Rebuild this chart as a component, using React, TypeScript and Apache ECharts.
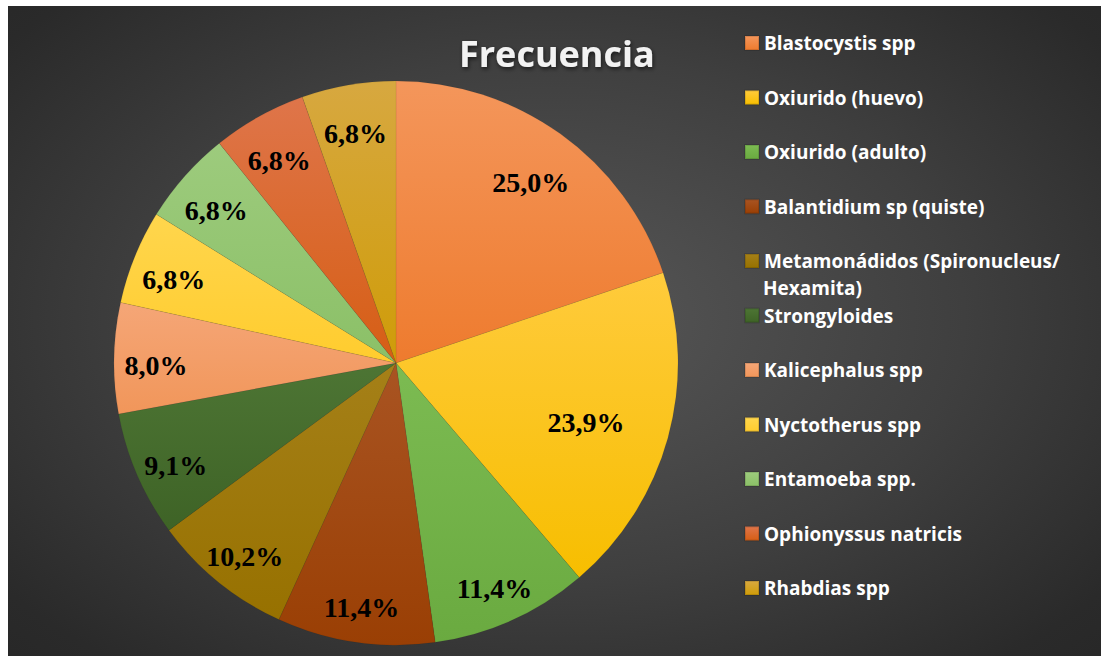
import React, { useEffect, useRef } from "react";
import * as echarts from "echarts";

const TITLE = "Frecuencia";
const categories = [
  "Blastocystis spp",
  "Oxiurido (huevo)",
  "Oxiurido (adulto)",
  "Balantidium sp (quiste)",
  "Metamonádidos (Spironucleus/Hexamita)",
  "Strongyloides",
  "Kalicephalus spp",
  "Nyctotherus spp",
  "Entamoeba spp.",
  "Ophionyssus natricis",
  "Rhabdias spp",
];
const values = [25.0, 23.9, 11.4, 11.4, 10.2, 9.1, 8.0, 6.8, 6.8, 6.8, 6.8];

// style: [top (lighter), bottom (base)]
const sliceColors: [string, string][] = [
  ["#F4965B", "#EE7B2E"],
  ["#FFCB3C", "#F7BE00"],
  ["#7CBB52", "#6AAA40"],
  ["#A95422", "#9A3F04"],
  ["#A58018", "#977100"],
  ["#4D7534", "#3E6326"],
  ["#F5A677", "#F1965A"],
  ["#FFD64D", "#FFCC2E"],
  ["#9DCB7D", "#8BC067"],
  ["#DF754A", "#D65E14"],
  ["#D7A840", "#CF9C08"],
];

// label ring groups (style): mid radius -> item indices
const labelGroups = [
  { mid: 228, items: [0] },
  { mid: 194, items: [1] },
  { mid: 237, items: [2, 3, 4, 5, 6, 7, 8, 9, 10] },
];

const CX = 388;
const CY = 357;
const R = 282;

const fmt = (v: number) => v.toFixed(1).replace(".", ",") + "%";

export default function App() {
  const ref = useRef<HTMLDivElement>(null);
  useEffect(() => {
    if (!ref.current) return;
    const chart = echarts.init(ref.current, null, { renderer: "svg" });
    const mainData = categories.map((name, i) => ({
      name,
      value: values[i],
      itemStyle: {
        color: new echarts.graphic.LinearGradient(0, 0, 0, 1, [
          { offset: 0, color: sliceColors[i][0] },
          { offset: 1, color: sliceColors[i][1] },
        ]),
      },
    }));
    const labelSeries = labelGroups.map((g) => ({
      type: "pie",
      silent: true,
      startAngle: 90,
      center: [CX, CY],
      radius: [2 * g.mid - R, R],
      avoidLabelOverlap: false,
      itemStyle: { color: "transparent", borderWidth: 0 },
      emphasis: { disabled: true },
      labelLine: { show: false },
      labelLayout: { dy: 7 },
      data: categories.map((name, i) => ({
        name,
        value: values[i],
        label: { show: g.items.includes(i) },
      })),
      label: {
        position: "inside",
        formatter: (p: any) => fmt(p.value),
        fontFamily: "Liberation Serif",
        fontWeight: "bold",
        fontSize: 28,
        color: "#000",
      },
      z: 3,
    }));
    const legendFmt = (name: string) =>
      name.startsWith("Metamon") ? "Metamonádidos (Spironucleus/" : name;
    chart.setOption({
      animation: false,
      backgroundColor: "transparent",
      title: {
        text: TITLE,
        left: 446,
        top: 24,
        textStyle: {
          fontFamily: "Open Sans",
          fontWeight: "bold",
          fontSize: 36,
          color: "#F2F2F2",
          textShadowColor: "rgba(0,0,0,0.6)",
          textShadowBlur: 4,
          textShadowOffsetX: 1,
          textShadowOffsetY: 2,
        },
      },
      legend: {
        orient: "vertical",
        left: 731,
        top: 22,
        itemWidth: 14,
        itemHeight: 14,
        itemGap: 34.5,
        icon: "rect",
        data: categories,
        formatter: legendFmt,
        selectedMode: false,
        textStyle: {
          fontFamily: "Open Sans",
          fontWeight: "bold",
          fontSize: 19,
          lineHeight: 20,
          color: "#FFFFFF",
        },
      },
      graphic: [
        {
          type: "text",
          left: 755,
          top: 272,
          style: {
            text: "Hexamita)",
            font: "bold 19px 'Open Sans'",
            fill: "#FFFFFF",
          },
        },
      ],
      series: [
        {
          type: "pie",
          startAngle: 90,
          center: [CX, CY],
          radius: [0, R],
          label: { show: false },
          labelLine: { show: false },
          emphasis: { disabled: true },
          itemStyle: {
            borderWidth: 0.5,
            borderColor: "rgba(0,0,0,0.12)",
          },
          data: mainData,
          z: 2,
        },
        ...labelSeries,
      ],
    });
    return () => chart.dispose();
  }, []);
  return (
    <div
      style={{
        position: "absolute",
        left: 8,
        top: 6,
        width: 1093,
        height: 650,
        background:
          "radial-gradient(ellipse 75% 80% at 50% 48%, #575757 0%, #3f3f3f 50%, #2a2a2a 85%, #262626 100%)",
      }}
    >
      <div ref={ref} style={{ width: 1093, height: 650 }} />
    </div>
  );
}
